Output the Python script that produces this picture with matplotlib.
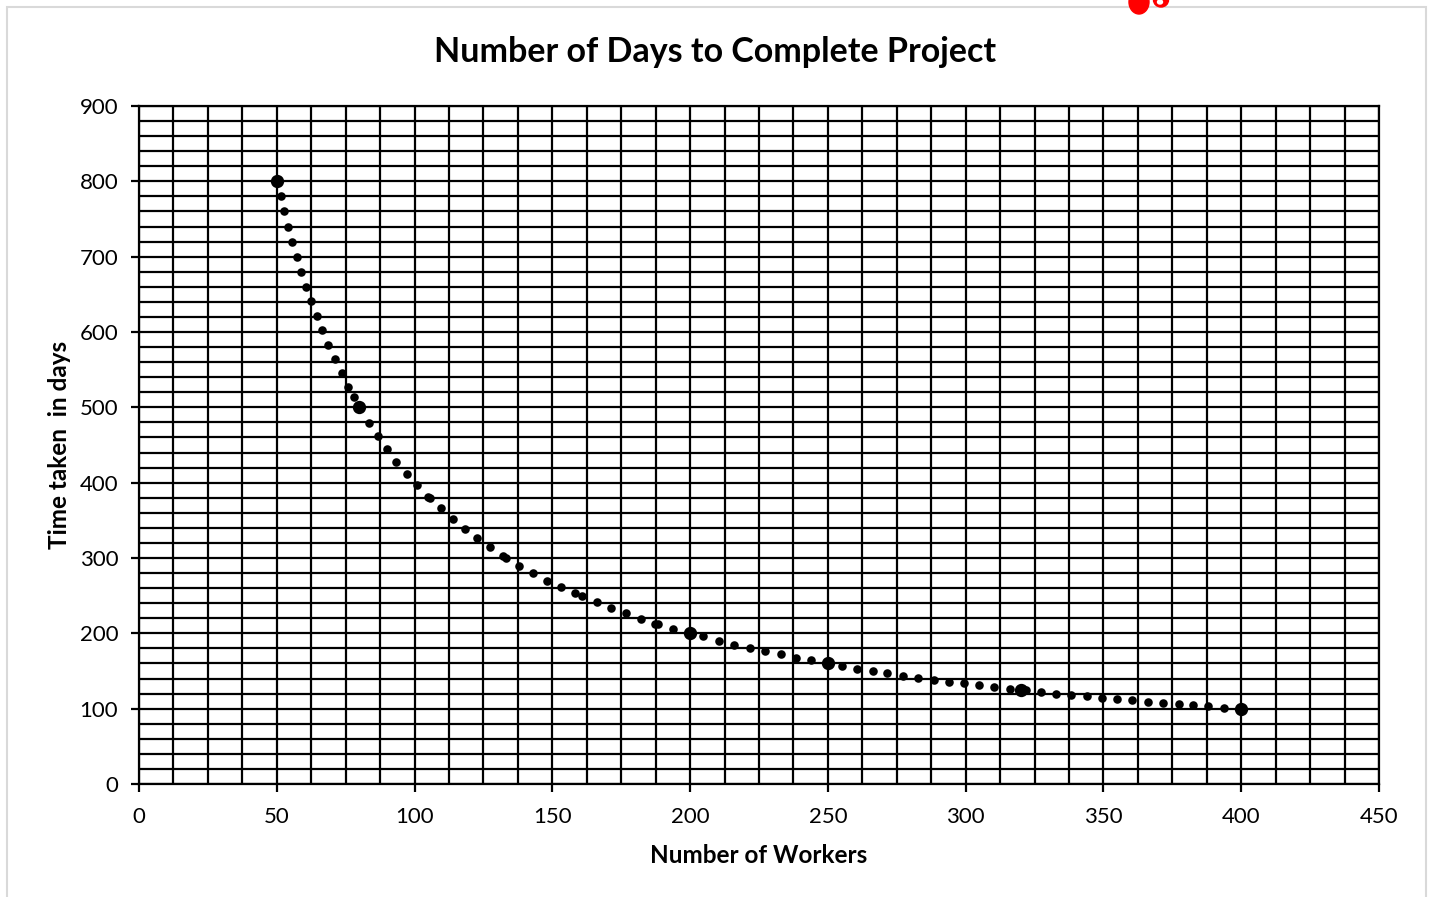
import matplotlib
matplotlib.use("Agg")
import matplotlib.pyplot as plt
from matplotlib.ticker import MultipleLocator
from matplotlib.patches import Ellipse, Rectangle

# ---- data ----
key_workers = [50, 80, 200, 250, 320, 400]
key_days = [800, 500, 200, 160, 125, 100]

dot_workers = [51.4, 52.7, 54.2, 55.6, 57.3, 58.9, 60.7, 62.4, 64.6, 66.5,
               68.7, 71.0, 73.6, 76.0, 77.9, 83.5, 86.6, 90.0, 93.4,
               97.1, 101.0, 104.8, 105.6, 109.6, 113.8, 118.3, 122.8, 127.4,
               132.2, 133.2, 138.0, 142.9, 147.9, 153.0, 158.2, 160.9, 166.1,
               171.3, 176.7, 182.2, 187.3, 188.5, 193.9,
               204.8, 210.4, 216.0, 221.7, 227.3, 232.9, 238.4, 244.0,
               255.1, 260.7, 266.2, 271.6, 277.2, 282.8, 288.4, 294.1, 299.3,
               304.8, 310.4, 316.1, 321.8, 327.2,
               332.8, 338.2, 343.9, 349.6, 354.8, 360.4, 366.0, 371.6, 377.3,
               382.4, 388.0, 393.6]
dot_days = [780, 760, 740, 720, 700, 680, 660, 641, 621, 602,
            583, 564, 545, 527, 514, 479, 462, 445, 428,
            412, 397, 381, 379, 366, 352, 339, 326, 314,
            303, 300, 290, 280, 270, 262, 253, 249, 241,
            233, 227, 219, 213, 212, 206,
            196, 190, 185, 180, 176, 172, 167, 164,
            157, 153, 150, 147, 144, 141, 138.5, 136, 134,
            131, 129, 126.5, 125, 122,
            120, 118, 116.4, 114.2, 112.4, 111.1, 109.3, 107.5, 105.8,
            105.3, 103.5, 101.3]

x_ticks = [0, 50, 100, 150, 200, 250, 300, 350, 400, 450]
y_ticks = [0, 100, 200, 300, 400, 500, 600, 700, 800, 900]

title = "Number of Days to Complete Project"
xlabel = "Number of Workers"
ylabel = "Time taken  in days"

plt.rcParams['font.family'] = ['Lato', 'DejaVu Sans']

W, H = 1431, 897
fig = plt.figure(figsize=(W / 100, H / 100), dpi=100)
fig.patch.set_facecolor("white")

# light frame around the chart area
fig.add_artist(Rectangle((7 / W, -0.05), (1426 - 7) / W, 1.05 - 7 / H,
                         transform=fig.transFigure, fill=False,
                         edgecolor="#d9d9d9", linewidth=1.5))
# red partial icon at the top edge
fig.add_artist(Ellipse((1139 / W, 1 - 2 / H), 20 / W, 24 / H,
                       transform=fig.transFigure, color="#ff0000", zorder=5))
fig.add_artist(Ellipse((1161 / W, 1 - 0 / H), 15 / W, 14 / H,
                       transform=fig.transFigure, color="#ff0000", zorder=5))
fig.add_artist(Ellipse((1160 / W, 1 - 2 / H), 5 / W, 4 / H,
                       transform=fig.transFigure, color="white", zorder=6))

ax = fig.add_axes([139 / W, 1 - 784 / H, (1379 - 139) / W, (784 - 106) / H])
ax.set_xlim(0, 450)
ax.set_ylim(0, 900)
ax.xaxis.set_major_locator(MultipleLocator(50))
ax.xaxis.set_minor_locator(MultipleLocator(12.5))
ax.yaxis.set_major_locator(MultipleLocator(100))
ax.yaxis.set_minor_locator(MultipleLocator(20))
ax.set_xticks(x_ticks)
ax.set_yticks(y_ticks)
ax.grid(True, which="both", color="black", linewidth=1.6)
ax.set_axisbelow(True)
for s in ax.spines.values():
    s.set_linewidth(1.6)
    s.set_color("black")
ax.tick_params(which="major", length=5.5, width=1.6, color="black",
               labelsize=16)
ax.tick_params(axis="x", which="major", pad=11)
ax.tick_params(axis="y", which="major", pad=9.5)
ax.tick_params(which="minor", length=0)

ax.scatter(dot_workers, dot_days, s=38, color="black", zorder=3, linewidths=0)
ax.scatter(key_workers, key_days, s=92, color="black", zorder=4, linewidths=0)

ax.set_xlabel(xlabel, fontsize=17.5, fontweight="bold", labelpad=12)
ax.set_ylabel(ylabel, fontsize=17.5, fontweight="bold", labelpad=6)
fig.text(0.5, 1 - 52 / H, title, ha="center", va="center",
         fontsize=24.5, fontweight="bold")

fig.savefig("out.png", dpi=100)
